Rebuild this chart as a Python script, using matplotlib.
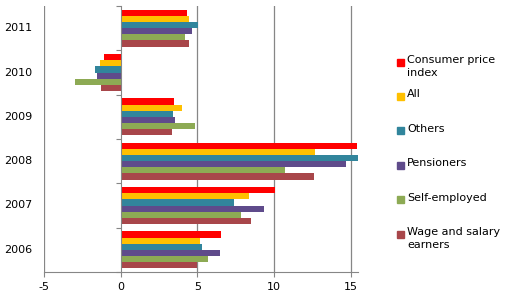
import matplotlib
matplotlib.use("Agg")
import matplotlib.pyplot as plt
import matplotlib.transforms as mtransforms
from matplotlib.patches import Rectangle
import numpy as np

years = ["2006", "2007", "2008", "2009", "2010", "2011"]

series = ["Consumer price\nindex", "All", "Others", "Pensioners",
          "Self-employed", "Wage and salary\nearners"]

cpi = [6.56, 10.09, 15.38, 3.49, -1.09, 4.31]
all_hh = [5.19, 8.39, 12.64, 3.99, -1.35, 4.47]
others = [5.32, 7.41, 15.47, 3.42, -1.68, 5.05]
pensioners = [6.49, 9.37, 14.70, 3.53, -1.55, 4.64]
self_employed = [5.71, 7.86, 10.68, 4.86, -2.98, 4.18]
wage_earners = [4.97, 8.52, 12.57, 3.36, -1.29, 4.47]

values = [cpi, all_hh, others, pensioners, self_employed, wage_earners]
colors = ["#FF0000", "#FFC000", "#31859C", "#5F4B8B", "#8DAA54", "#A8464A"]

grid_col = "#868686"

fig = plt.figure(figsize=(5.19, 3.08), dpi=100)
ax = fig.add_axes([44 / 519, 1 - 272 / 308, (358 - 44) / 519, 266 / 308])

y = np.arange(len(years))
h = 0.139
for i, (vals, c) in enumerate(zip(values, colors)):
    off = (2.5 - i) * h
    ax.barh(y + off, vals, height=h, color=c, zorder=3)

ax.set_xlim(-5, 15.47)
ax.set_ylim(-0.5, len(years) - 0.5)
ax.set_xticks([-5, 0, 5, 10, 15])
ax.set_xticklabels(["-5", "0", "5", "10", "15"], fontsize=8)
ax.tick_params(axis="x", length=3.5, color=grid_col, pad=4)
for xv in [-5, 5, 10, 15]:
    ax.axvline(xv, color=grid_col, lw=0.9, zorder=1)

for s in ["top", "right"]:
    ax.spines[s].set_visible(False)
ax.spines["bottom"].set_color(grid_col)
ax.spines["left"].set_position(("data", 0))
ax.spines["left"].set_color(grid_col)
ax.spines["left"].set_zorder(4)

ax.set_yticks(np.arange(-0.5, len(years), 1.0))
ax.set_yticklabels([])
ax.tick_params(axis="y", length=3.5, color=grid_col)

trans = mtransforms.blended_transform_factory(fig.transFigure, ax.transData)
for yi, lab in zip(y, years):
    ax.text(18 / 519, yi, lab, transform=trans, ha="center", va="center", fontsize=8)

# legend drawn by hand to get Excel-like spacing
for i, (lab, c) in enumerate(zip(series, colors)):
    yc = 1 - (62 + i * 34.4) / 308
    fig.add_artist(Rectangle((397 / 519, yc - 3.5 / 308), 7 / 519, 7 / 308,
                             color=c, transform=fig.transFigure))
    fig.text(407 / 519, yc + 7 / 308, lab, fontsize=8, va="top", ha="left",
             linespacing=1.35)

plt.savefig("out.png", dpi=100)
